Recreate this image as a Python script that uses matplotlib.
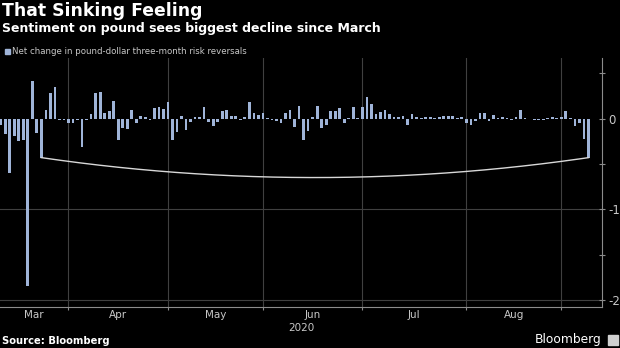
import numpy as np
import pandas as pd
import matplotlib
matplotlib.use("Agg")
import matplotlib.pyplot as plt
from matplotlib.patches import Rectangle

'''
That Sinking Feeling - pound-dollar risk reversals, Bloomberg style
'''

# daily net change in pound-dollar three-month risk reversals (business days from 11 Mar 2020)
start_day = "2020-03-11"
changes = [
    -0.07, -0.17, -0.60, -0.19, -0.25, -0.23, -1.85, 0.42, -0.16, -0.43,
    0.10, 0.28, 0.35, -0.01, -0.01, -0.05, -0.05, -0.01, -0.31, -0.02,
    0.055, 0.28, 0.30, 0.06, 0.08, 0.20, -0.24, -0.10, -0.11, 0.10,
    -0.05, 0.03, 0.02, -0.01, 0.12, 0.13, 0.11, 0.18, -0.24, -0.15,
    0.035, -0.125, -0.04, 0.02, 0.02, 0.13, -0.04, -0.08, -0.035, 0.08,
    0.10, 0.03, 0.03, -0.02, 0.02, 0.18, 0.06, 0.04, 0.06, 0.01,
    -0.02, -0.025, -0.05, 0.06, 0.10, -0.09, 0.14, -0.24, -0.14, 0.02,
    0.14, -0.10, -0.065, 0.085, 0.09, 0.12, -0.05, 0.005, 0.13, 0.005,
    0.13, 0.24, 0.16, 0.05, 0.075, 0.10, 0.055, 0.02, 0.02, 0.035,
    -0.075, 0.055, 0.015, 0.005, 0.02, 0.02, 0.005, 0.015, 0.025, 0.025,
    0.025, 0.005, 0.015, -0.05, -0.07, -0.03, 0.06, 0.06, -0.03, 0.045,
    0.01, 0.02, 0.005, -0.02, 0.02, 0.10, 0.005, -0.005, -0.01, -0.02,
    -0.02, 0.01, 0.02, 0.005, 0.02, 0.09, 0.005, -0.08, -0.05, -0.22,
    -0.43,
]
month_names = ["Mar", "Apr", "May", "Jun", "Jul", "Aug"]
year_label = "2020"
y_ticks = [0, -1, -2]
y_minor = [0.5, -0.5, -1.5]
# bracket between the two -0.43 days
bracket_from = 9
bracket_sag = 0.22

title = "That Sinking Feeling"
subtitle = "Sentiment on pound sees biggest decline since March"
legend_label = "Net change in pound-dollar three-month risk reversals"

BAR = "#9fb4d8"
GRID = "#404040"
AXIS = "#8c8c8c"
TEXT = "#c8c8c8"

dates = pd.bdate_range(start_day, periods=len(changes))
x = np.arange(len(changes))
vals = np.array(changes)
month_starts = [i for i in range(1, len(dates)) if dates[i].month != dates[i - 1].month]

fig = plt.figure(figsize=(6.2, 3.48), dpi=100, facecolor="black")
ax = fig.add_axes([0.0, 0.1187, 602 / 620, 0.8333 - 0.1187], facecolor="black")

ax.bar(x, vals, width=0.6, color=BAR, zorder=3)

x0, x1 = -0.15, 133.0
ax.set_xlim(x0, x1)
ax.set_ylim(-2.076, 0.67)

# month boundaries as vertical grid
for m in month_starts:
    ax.axvline(m, color=GRID, lw=0.8, zorder=1)
for yv in y_ticks[1:]:
    ax.axhline(yv, color=GRID, lw=0.8, zorder=1)

# bracket curve
xa, xb = bracket_from, len(vals) - 1
xc = np.linspace(xa, xb, 200)
t = (xc - (xa + xb) / 2) / ((xb - xa) / 2)
yc = vals[xa] + (vals[xb] - vals[xa]) * (xc - xa) / (xb - xa) - bracket_sag * (1 - t ** 2)
ax.plot(xc, yc, color="#d8d8d8", lw=1.0, zorder=4)

# axes styling
for s in ["top", "left"]:
    ax.spines[s].set_visible(False)
ax.spines["right"].set_color(AXIS)
ax.spines["bottom"].set_color(AXIS)
ax.yaxis.tick_right()
ax.set_yticks(y_ticks)
ax.set_yticklabels([str(v) for v in y_ticks])
ax.set_yticks(y_minor, minor=True)
ax.tick_params(axis="y", which="both", colors=AXIS, labelcolor=TEXT, direction="inout",
               length=5, width=0.8, labelsize=8.5, pad=2)
ax.tick_params(axis="y", which="minor", length=4)
ax.set_xticks(month_starts)
ax.set_xticklabels([])
ax.tick_params(axis="x", colors=AXIS, direction="out", length=2, width=0.8)

bounds = [x0] + month_starts
for i, name in enumerate(month_names):
    mid = (bounds[i] + bounds[i + 1]) / 2
    ax.text(mid, -0.015, name, transform=ax.get_xaxis_transform(), ha="center", va="top",
            color=TEXT, fontsize=7.5)
ax.text(0.5, -0.065, year_label, transform=ax.transAxes, ha="center", va="top",
        color=TEXT, fontsize=7.5)

# header
fig.text(0.004, 1 - 2 / 348, title, color="white", fontsize=12.4, fontweight="bold", va="top")
fig.text(0.004, 1 - 22 / 348, subtitle, color="white", fontsize=9.0, fontweight="bold", va="top")
fig.patches.append(Rectangle((5 / 620, 1 - 54 / 348), 5 / 620, 5 / 348, transform=fig.transFigure,
                             color=BAR, figure=fig))
fig.text(12 / 620, 1 - 52 / 348, legend_label, color=TEXT, fontsize=6.2, va="center")

# footer
fig.text(0.004, 1 - 341 / 348, "Source: Bloomberg", color="white", fontsize=7.2,
         fontweight="bold", va="center")
fig.text(602 / 620, 1 - 340 / 348, "Bloomberg", color="white", fontsize=8.8, ha="right", va="center")
fig.patches.append(Rectangle((608 / 620, 1 - 345 / 348), 10 / 620, 10 / 348, transform=fig.transFigure,
                             color="#d0d0d0", figure=fig))

fig.savefig("out.png", dpi=100, facecolor="black")
